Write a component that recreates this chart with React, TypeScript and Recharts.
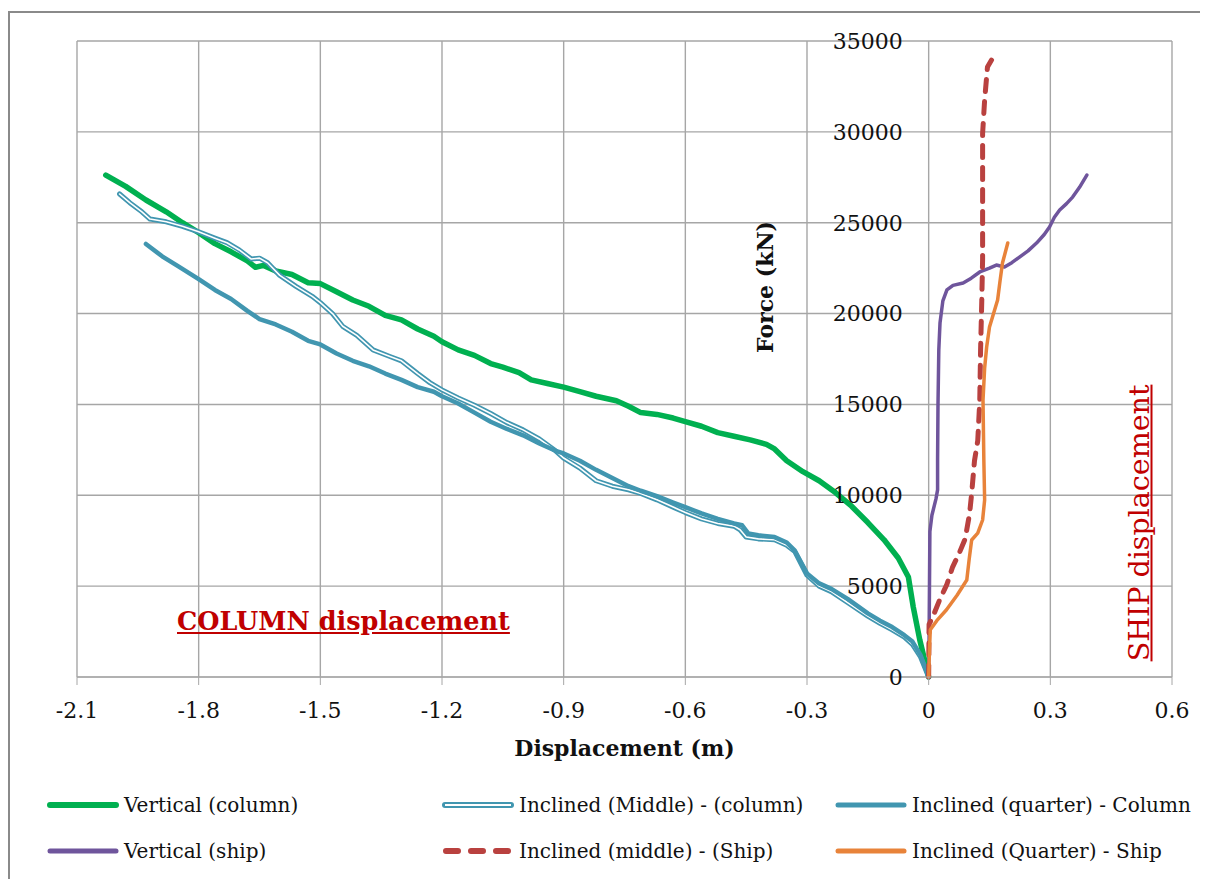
import React from "react";
import { CartesianGrid, Line, LineChart, XAxis, YAxis } from "recharts";

// displacement (m), force (kN) pairs
const verticalColumn: [number, number][] = [
  [-2.029, 27620], [-1.98, 27000], [-1.93, 26250], [-1.88, 25600], [-1.84, 25000],
  [-1.8, 24450], [-1.76, 23850], [-1.72, 23400], [-1.68, 22900], [-1.66, 22550],
  [-1.64, 22650], [-1.61, 22350], [-1.57, 22150], [-1.53, 21700], [-1.5, 21650],
  [-1.46, 21200], [-1.42, 20750], [-1.38, 20400], [-1.34, 19900], [-1.3, 19650],
  [-1.26, 19150], [-1.22, 18750], [-1.2, 18450], [-1.16, 18000], [-1.12, 17700],
  [-1.08, 17250], [-1.05, 17050], [-1.01, 16750], [-0.98, 16350], [-0.94, 16150],
  [-0.9, 15950], [-0.86, 15700], [-0.82, 15450], [-0.77, 15200], [-0.74, 14900],
  [-0.71, 14550], [-0.67, 14450], [-0.63, 14250], [-0.6, 14050], [-0.56, 13800],
  [-0.52, 13450], [-0.48, 13250], [-0.44, 13050], [-0.4, 12800], [-0.38, 12550],
  [-0.35, 11900], [-0.31, 11300], [-0.27, 10800], [-0.23, 10150], [-0.19, 9400],
  [-0.15, 8500], [-0.11, 7550], [-0.075, 6550], [-0.05, 5500], [-0.038, 3850],
  [-0.022, 2050], [0, 0],
];

const inclinedMiddleColumn: [number, number][] = [
  [-1.995, 26580], [-1.97, 26100], [-1.94, 25600], [-1.92, 25200], [-1.88, 25050],
  [-1.84, 24800], [-1.8, 24500], [-1.76, 24150], [-1.73, 23900], [-1.7, 23500],
  [-1.67, 23000], [-1.65, 23050], [-1.63, 22800], [-1.6, 22100], [-1.56, 21500],
  [-1.52, 20950], [-1.5, 20600], [-1.47, 20000], [-1.445, 19300], [-1.41, 18800],
  [-1.37, 18000], [-1.33, 17650], [-1.3, 17400], [-1.26, 16700], [-1.23, 16200],
  [-1.2, 15800], [-1.16, 15350], [-1.12, 14950], [-1.08, 14500], [-1.04, 14000],
  [-1.0, 13600], [-0.96, 13100], [-0.92, 12450], [-0.9, 12050], [-0.86, 11500],
  [-0.82, 10800], [-0.78, 10500], [-0.74, 10300], [-0.71, 10100], [-0.67, 9750],
  [-0.63, 9350], [-0.6, 9050], [-0.56, 8700], [-0.52, 8450], [-0.48, 8300],
  [-0.465, 8100], [-0.45, 7700], [-0.42, 7600], [-0.38, 7550], [-0.35, 7250],
  [-0.33, 6900], [-0.3, 5600], [-0.27, 5000], [-0.24, 4700], [-0.2, 4100],
  [-0.15, 3350], [-0.12, 2950], [-0.09, 2600], [-0.06, 2200], [-0.04, 1800],
  [-0.02, 1100], [0, 0],
];

const inclinedQuarterColumn: [number, number][] = [
  [-1.93, 23830], [-1.89, 23150], [-1.85, 22600], [-1.8, 21900], [-1.76, 21300],
  [-1.72, 20800], [-1.68, 20150], [-1.65, 19700], [-1.61, 19400], [-1.57, 19000],
  [-1.53, 18500], [-1.5, 18300], [-1.46, 17800], [-1.42, 17400], [-1.38, 17100],
  [-1.34, 16700], [-1.3, 16350], [-1.26, 15950], [-1.22, 15700], [-1.2, 15450],
  [-1.16, 15050], [-1.12, 14550], [-1.08, 14050], [-1.04, 13650], [-1.0, 13300],
  [-0.96, 12850], [-0.92, 12450], [-0.9, 12300], [-0.86, 11900], [-0.82, 11400],
  [-0.78, 10950], [-0.74, 10500], [-0.71, 10250], [-0.67, 9950], [-0.63, 9600],
  [-0.6, 9350], [-0.56, 9000], [-0.52, 8700], [-0.48, 8450], [-0.46, 8350],
  [-0.445, 7900], [-0.42, 7800], [-0.38, 7700], [-0.35, 7400], [-0.33, 6950],
  [-0.3, 5700], [-0.27, 5150], [-0.24, 4850], [-0.2, 4300], [-0.15, 3500],
  [-0.12, 3100], [-0.09, 2750], [-0.06, 2300], [-0.04, 1950], [-0.02, 1200],
  [0, 0],
];

const verticalShip: [number, number][] = [
  [0, 0], [0.001, 2000], [0.002, 5000], [0.003, 8000], [0.008, 8900],
  [0.018, 9800], [0.022, 10300], [0.022, 12000], [0.023, 15000], [0.025, 18000],
  [0.028, 19500], [0.035, 20700], [0.045, 21300], [0.06, 21550], [0.085, 21680],
  [0.105, 21950], [0.126, 22290], [0.15, 22500], [0.167, 22670], [0.187, 22560],
  [0.205, 22800], [0.224, 23110], [0.245, 23450], [0.266, 23880], [0.285, 24350],
  [0.298, 24760], [0.31, 25300], [0.323, 25700], [0.34, 26050], [0.355, 26410],
  [0.372, 26950], [0.39, 27620],
];

const inclinedMiddleShip: [number, number][] = [
  [0, 0], [0.001, 2900], [0.01, 3300], [0.027, 4240], [0.045, 5100],
  [0.059, 6050], [0.075, 6800], [0.09, 7600], [0.101, 9000], [0.106, 10100],
  [0.113, 11900], [0.121, 13000], [0.126, 15200], [0.128, 18000], [0.131, 20750],
  [0.133, 23000], [0.133, 26250], [0.133, 29900], [0.138, 31750], [0.145, 33570],
  [0.155, 33950],
];

const inclinedQuarterShip: [number, number][] = [
  [0, 0], [0.002, 1500], [0.004, 2600], [0.02, 3100], [0.044, 3700],
  [0.07, 4500], [0.094, 5340], [0.1, 6500], [0.106, 7540], [0.121, 7920],
  [0.133, 8640], [0.138, 9740], [0.136, 12000], [0.134, 15240], [0.138, 17000],
  [0.143, 18160], [0.15, 19260], [0.16, 20000], [0.17, 20750], [0.176, 21800],
  [0.182, 22780], [0.195, 23880],
];

const xTicks = [-2.1, -1.8, -1.5, -1.2, -0.9, -0.6, -0.3, 0, 0.3, 0.6];
const yTicks = [0, 5000, 10000, 15000, 20000, 25000, 30000, 35000];

const GREEN = "#00b050";
const TEAL = "#4196b0";
const PURPLE = "#6f559c";
const RED = "#b9413f";
const ORANGE = "#e8833a";
const GRID = "#a6a6a6";
const FONT = "'DejaVu Serif', serif";

const W = 1200;
const H = 871;
const Y_AXIS_W = 1;
const M = { top: 33, right: 36, left: 69 - Y_AXIS_W, bottom: 142 };
const X_AXIS_H = 60;
const plotLeft = M.left + Y_AXIS_W;
const plotW = W - plotLeft - M.right;
// pixel of x = 0, where Excel crosses the value axis
const zeroX = plotLeft + ((0 - xTicks[0]) / (xTicks[xTicks.length - 1] - xTicks[0])) * plotW;

const pts = (pairs: [number, number][]) => pairs.map(([x, y]) => ({ x, y }));

const renderYTick = (props: any) => (
  <text
    key={`yt-${props.payload.value}`}
    x={zeroX - 26}
    y={props.y}
    dy="0.36em"
    textAnchor="end"
    fontFamily={FONT}
    fontSize={22}
    fill="#111"
  >
    {props.payload.value}
  </text>
);

const legendItems = [
  { label: "Vertical (column)", kind: "solid", color: GREEN, col: 0, row: 0 },
  { label: "Inclined (Middle) - (column)", kind: "double", color: TEAL, col: 1, row: 0 },
  { label: "Inclined (quarter) - Column", kind: "solid", color: TEAL, col: 2, row: 0 },
  { label: "Vertical (ship)", kind: "solid", color: PURPLE, col: 0, row: 1 },
  { label: "Inclined (middle) - (Ship)", kind: "dash", color: RED, col: 1, row: 1 },
  { label: "Inclined (Quarter) - Ship", kind: "solid", color: ORANGE, col: 2, row: 1 },
];
const legendColX = [39, 434, 827];
const legendRowY = [797, 843];

function Swatch({ kind, color }: { kind: string; color: string }) {
  return (
    <svg width={72} height={12} style={{ display: "block" }}>
      {kind === "double" ? (
        <>
          <line x1={3} y1={6} x2={69} y2={6} stroke={color} strokeWidth={6} strokeLinecap="round" />
          <line x1={3} y1={6} x2={69} y2={6} stroke="#fff" strokeWidth={2} />
        </>
      ) : kind === "dash" ? (
        <line x1={4} y1={6} x2={70} y2={6} stroke={color} strokeWidth={6} strokeLinecap="round" strokeDasharray="12 13" />
      ) : (
        <line x1={3} y1={6} x2={69} y2={6} stroke={color} strokeWidth={color === GREEN ? 6 : 5} strokeLinecap="round" />
      )}
    </svg>
  );
}

export default function App() {
  return (
    <div style={{ position: "relative", width: W, height: H, fontFamily: FONT, background: "#fff" }}>
      <div
        style={{
          position: "absolute",
          left: 0,
          top: 3,
          width: W,
          height: H,
          borderLeft: "2.5px solid #8a8a8a",
          borderTop: "2.5px solid #8a8a8a",
        }}
      />
      <div style={{ position: "absolute", left: 0, top: 0 }}>
        <LineChart width={W} height={H} margin={M}>
          <CartesianGrid stroke={GRID} strokeWidth={1.4} />
          <XAxis
            type="number"
            dataKey="x"
            domain={[xTicks[0], xTicks[xTicks.length - 1]]}
            ticks={xTicks}
            interval={0}
            height={X_AXIS_H}
            tickSize={8}
            tickMargin={17}
            stroke={GRID}
            tick={{ fontFamily: FONT, fontSize: 22, fill: "#111" }}
            tickFormatter={(v) => String(v)}
          />
          <YAxis
            type="number"
            dataKey="y"
            domain={[0, 35000]}
            ticks={yTicks}
            interval={0}
            width={Y_AXIS_W}
            axisLine={false}
            tickLine={false}
            tick={renderYTick}
          />
          <Line data={pts(verticalColumn)} dataKey="y" type="linear" stroke={GREEN} strokeWidth={5.5}
            dot={false} strokeLinejoin="round" strokeLinecap="round" isAnimationActive={false} />
          <Line data={pts(inclinedMiddleColumn)} dataKey="y" type="linear" stroke={TEAL} strokeWidth={5}
            dot={false} strokeLinejoin="round" strokeLinecap="round" isAnimationActive={false} />
          <Line data={pts(inclinedMiddleColumn)} dataKey="y" type="linear" stroke="#fff" strokeWidth={1.6}
            dot={false} strokeLinejoin="round" strokeLinecap="round" isAnimationActive={false} />
          <Line data={pts(inclinedQuarterColumn)} dataKey="y" type="linear" stroke={TEAL} strokeWidth={4.5}
            dot={false} strokeLinejoin="round" strokeLinecap="round" isAnimationActive={false} />
          <Line data={pts(verticalShip)} dataKey="y" type="linear" stroke={PURPLE} strokeWidth={3.5}
            dot={false} strokeLinejoin="round" strokeLinecap="round" isAnimationActive={false} />
          <Line data={pts(inclinedMiddleShip)} dataKey="y" type="linear" stroke={RED} strokeWidth={5}
            strokeDasharray="12 10" dot={false} strokeLinejoin="round" strokeLinecap="round" isAnimationActive={false} />
          <Line data={pts(inclinedQuarterShip)} dataKey="y" type="linear" stroke={ORANGE} strokeWidth={3.5}
            dot={false} strokeLinejoin="round" strokeLinecap="round" isAnimationActive={false} />
        </LineChart>
      </div>

      {/* axis titles */}
      <div style={{ position: "absolute", left: plotLeft, width: plotW, top: 740, transform: "translateY(-50%)",
        textAlign: "center", fontWeight: "bold", fontSize: 22, color: "#111", whiteSpace: "nowrap" }}>
        Displacement (m)
      </div>
      <div style={{ position: "absolute", left: 757, top: 279, transform: "translate(-50%, -50%) rotate(-90deg)",
        fontWeight: "bold", fontSize: 22, color: "#111", whiteSpace: "nowrap" }}>
        Force (kN)
      </div>

      {/* annotations */}
      <div style={{ position: "absolute", left: 169, top: 613, transform: "translateY(-50%)",
        fontWeight: "bold", fontSize: 25.5, color: "#c00000", textDecoration: "underline", whiteSpace: "nowrap" }}>
        COLUMN displacement
      </div>
      <div style={{ position: "absolute", left: 1131, top: 515, transform: "translate(-50%, -50%) rotate(-90deg)",
        fontSize: 28.5, color: "#c00000", textDecoration: "underline", whiteSpace: "nowrap" }}>
        SHIP displacement
      </div>

      {/* legend */}
      {legendItems.map((it) => (
        <div key={it.label} style={{ position: "absolute", left: legendColX[it.col], top: legendRowY[it.row],
          transform: "translateY(-50%)", display: "flex", alignItems: "center", whiteSpace: "nowrap" }}>
          <Swatch kind={it.kind} color={it.color} />
          <span style={{ fontSize: 20, color: "#111", marginLeft: 5 }}>{it.label}</span>
        </div>
      ))}
    </div>
  );
}
